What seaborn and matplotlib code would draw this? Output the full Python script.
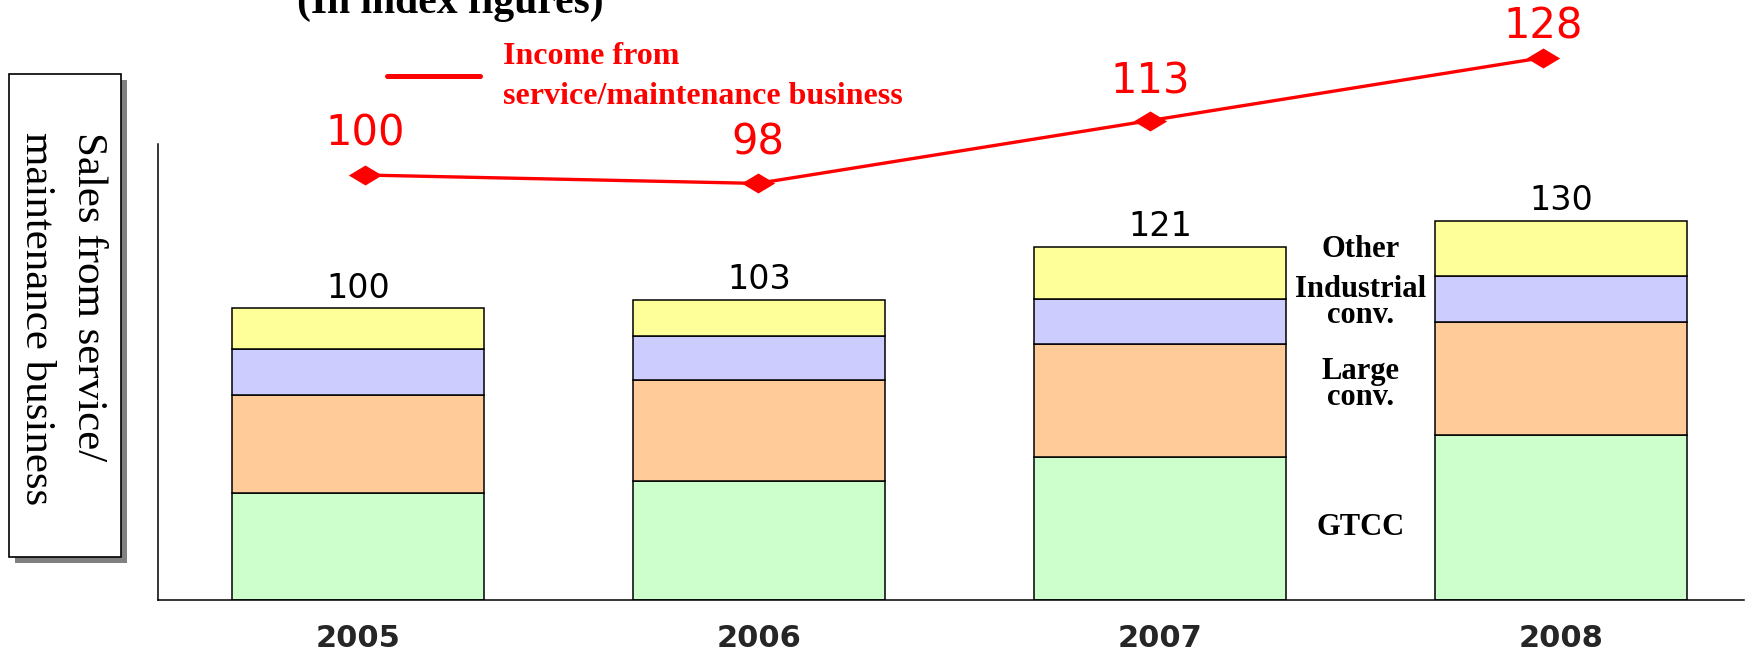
import numpy as np
import matplotlib
matplotlib.use("Agg")
import matplotlib.pyplot as plt
from matplotlib.path import Path
from matplotlib.lines import Line2D
from matplotlib.patches import Rectangle
import seaborn as sns

# ---------------- data ----------------
years = ["2005", "2006", "2007", "2008"]
segment_names = ["GTCC", "Large\nconv.", "Industrial\nconv.", "Other"]
gtcc = [36.6, 40.8, 48.9, 56.6]
large_conv = [33.7, 34.5, 38.7, 38.8]
industrial_conv = [15.8, 15.2, 15.7, 15.6]
other = [13.9, 12.5, 17.7, 19.0]
sales_totals = [100, 103, 121, 130]
income_index = [100, 98, 113, 128]

title = "(In index figures)"
legend_label = "Income from\nservice/maintenance business"
box_label = "Sales from service/\nmaintenance business"

# ---------------- layout / style ----------------
seg_colors = ["#CCFFCC", "#FFCC99", "#CCCCFF", "#FFFF99"]
segment_label_y = [24.9, 73.9, 102.0, 120.2]   # label anchor heights (bar-axis units)
income_label_offsets = [30, 29.5, 28, 22.3]    # points above each marker
W, H = 1764, 654

sns.set_theme(style="white")
plt.rcParams["font.family"] = ["DejaVu Sans"]

fig = plt.figure(figsize=(W / 100, H / 100), dpi=100)
fig.patch.set_facecolor("white")
ax_rect = [157.5 / W, 1 - 600 / H, (1744 - 157.5) / W, (600 - 144) / H]
ax = fig.add_axes(ax_rect)

layers = [gtcc, large_conv, industrial_conv, other]
bottom = np.zeros(len(years))
for vals, col in zip(layers, seg_colors):
    sns.barplot(x=years, y=vals, order=years, bottom=bottom, color=col,
                saturation=1, width=0.628, edgecolor="black", linewidth=1.1,
                errorbar=None, ax=ax)
    bottom = bottom + np.array(vals)

# bar totals
for i, (top, lab) in enumerate(zip(bottom, sales_totals)):
    ax.annotate(str(lab), (i, top), xytext=(0, 14.5), textcoords="offset points",
                ha="center", va="center", fontsize=24, color="black")

# segment labels between the 2007 and 2008 bars
for name, y in zip(segment_names, segment_label_y):
    ax.text(2.5, y, name, ha="center", va="center", family="Liberation Serif",
            fontweight="bold", fontsize=22, linespacing=0.88, color="black")

ax.set_xlim(-0.5, 3.456)
ax.set_ylim(0, 156.3)
ax.set_xticks(range(len(years)))
ax.set_xticklabels(years, fontsize=22, fontweight="bold")
ax.tick_params(axis="x", length=0, pad=17)
ax.set_yticks([])
ax.set_xlabel("")
ax.set_ylabel("")
for s in ["top", "right"]:
    ax.spines[s].set_visible(False)
for s in ["left", "bottom"]:
    ax.spines[s].set_color("black")
    ax.spines[s].set_linewidth(1.1)

# income line on an overlay axes
ax2 = fig.add_axes(ax_rect)
ax2.patch.set_alpha(0)
diamond = Path([(-1, 0), (0, 0.6), (1, 0), (0, -0.6), (-1, 0)],
               [Path.MOVETO, Path.LINETO, Path.LINETO, Path.LINETO, Path.CLOSEPOLY])
sns.lineplot(x=np.arange(len(years)), y=income_index, ax=ax2, color="red",
             linewidth=2.4, marker=diamond, markersize=24, markeredgewidth=0,
             markerfacecolor="red", clip_on=False)
ax2.set_xlim(-0.528, 3.512)
ax2.set_ylim(-1.36, 107.4)
for i, (v, off) in enumerate(zip(income_index, income_label_offsets)):
    ax2.annotate(str(v), (i, v), xytext=(0, off), textcoords="offset points",
                 ha="center", va="center", fontsize=30, color="red",
                 annotation_clip=False)
ax2.set_xticks([])
ax2.set_yticks([])
ax2.set_xlabel("")
ax2.set_ylabel("")
for s in ax2.spines.values():
    s.set_visible(False)

# legend
handle = Line2D([], [], color="red", lw=3.6)
leg = fig.legend([handle], [legend_label], loc="center left",
                 bbox_to_anchor=(387 / W, 1 - 76 / H), frameon=False,
                 borderpad=0, borderaxespad=0, handlelength=2.91,
                 handletextpad=0.72, labelcolor="red",
                 prop={"family": "Liberation Serif", "weight": "bold", "size": 23})
for t in leg.get_texts():
    t.set_linespacing(1.5)

# left boxed label with shadow
fig.add_artist(Rectangle((15 / W, 1 - 563 / H), 112 / W, 483 / H,
                         transform=fig.transFigure, facecolor="#808080",
                         edgecolor="none"))
fig.add_artist(Rectangle((9 / W, 1 - 557 / H), 112 / W, 483 / H,
                         transform=fig.transFigure, facecolor="white",
                         edgecolor="black", linewidth=1.2))
fig.text(62 / W, 1 - 132 / H, box_label, rotation=270, ha="center", va="top",
         family="Liberation Serif", fontsize=31, linespacing=1.45,
         multialignment="left", color="black")

# title (partially cut off at top, as in the reference)
fig.text(450 / W, 1 - 13 / H, title, ha="center", va="baseline",
         family="Liberation Serif", fontweight="bold", fontsize=30, color="black")

fig.savefig("out.png", dpi=100)
